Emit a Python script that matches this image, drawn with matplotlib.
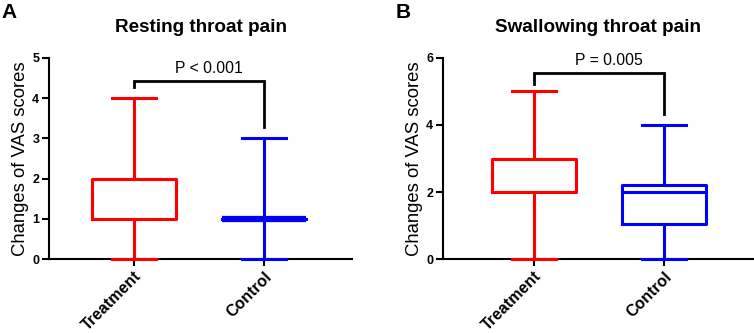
import matplotlib
matplotlib.use("Agg")
import matplotlib.pyplot as plt

plt.rcParams['font.family'] = ['Liberation Sans', 'DejaVu Sans']

groups = ["Treatment", "Control"]
colors = ["#ff0000", "#0000ff"]

# panel A: resting throat pain (whislo, q1, med, q3, whishi)
rest_lo = [0, 0]
rest_q1 = [1, 1]
rest_med = [2, 1]
rest_q3 = [2, 1]
rest_hi = [4, 3]

# panel B: swallowing throat pain
swal_lo = [0, 0]
swal_q1 = [2, 1.05]
swal_med = [3, 2.0]
swal_q3 = [3, 2.2]
swal_hi = [5, 4]

panels = [
    dict(letter="A", title="Resting throat pain", lo=rest_lo, q1=rest_q1, med=rest_med,
         q3=rest_q3, hi=rest_hi, ymax=5, yticks=[0, 1, 2, 3, 4, 5],
         bracket=(4.28, 4.42, 3.28), ptext="P < 0.001",
         rect=[0.065, 0.222, 0.402, 0.604], xlim=(0.346, 2.677)),
    dict(letter="B", title="Swallowing throat pain", lo=swal_lo, q1=swal_q1, med=swal_med,
         q3=swal_q3, hi=swal_hi, ymax=6, yticks=[0, 2, 4, 6],
         bracket=(5.23, 5.56, 4.34), ptext="P = 0.005",
         rect=[0.5875, 0.222, 0.411, 0.604], xlim=(0.30, 2.685)),
]

fig = plt.figure(figsize=(7.54, 3.33), dpi=100)

for p in panels:
    ax = fig.add_axes(p["rect"])
    for i in range(2):
        st = [dict(whislo=p["lo"][i], q1=p["q1"][i], med=p["med"][i],
                   q3=p["q3"][i], whishi=p["hi"][i], fliers=[])]
        c = colors[i]
        medw = 4.5 if p["q1"][i] == p["q3"][i] else 2.2
        parts = ax.bxp(st, positions=[i + 1], widths=0.65, showfliers=False,
                       boxprops=dict(color=c, linewidth=2.2),
                       whiskerprops=dict(color=c, linewidth=2.2),
                       capprops=dict(color=c, linewidth=2.2),
                       medianprops=dict(color=c, linewidth=medw, solid_capstyle='butt'),
                       capwidths=0.34, manage_ticks=False)
        for key in parts:
            for art in parts[key]:
                art.set_zorder(3)
                art.set_clip_on(False)

    y1, ytop, y2 = p["bracket"]
    ax.plot([1, 1, 2, 2], [y1, ytop, ytop, y2], color="black", lw=2.0,
            solid_joinstyle='miter', clip_on=False)
    ax.text(1.575, ytop + 0.12 * p["ymax"] / 5, p["ptext"], ha="center", va="bottom",
            fontsize=11.3)

    ax.set_xlim(*p["xlim"])
    ax.set_ylim(0, p["ymax"])
    ax.set_yticks(p["yticks"])
    ax.set_xticks([1, 2])
    ax.set_xticklabels(groups, rotation=45, ha="right", rotation_mode="anchor",
                       fontsize=11.5, fontweight="bold")
    for lab in ax.get_yticklabels():
        lab.set_fontweight("bold")
        lab.set_fontsize(9)
    ax.spines["top"].set_visible(False)
    ax.spines["right"].set_visible(False)
    ax.spines["left"].set_linewidth(1.5)
    ax.spines["bottom"].set_linewidth(1.5)
    ax.tick_params(width=1.5, length=5, pad=2)
    ax.set_ylabel("Changes of VAS scores", fontsize=13.3, labelpad=2)
    ax.set_title(p["title"], fontsize=13.6, fontweight="bold", pad=19)
    bb = ax.get_position()
    fig.text(bb.x0 - 0.063, 0.99, p["letter"], fontsize=15, fontweight="bold",
             ha="left", va="top")

fig.savefig("out.png", dpi=100)
